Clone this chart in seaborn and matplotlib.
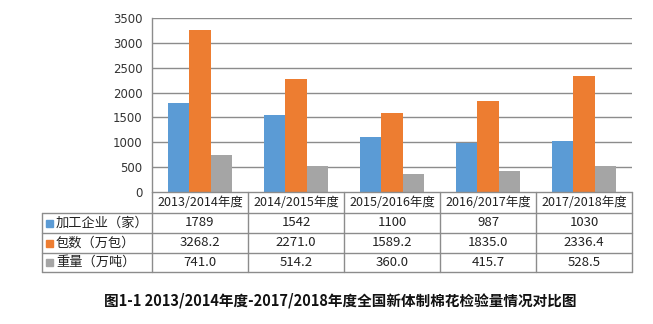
import matplotlib
matplotlib.use("Agg")
import matplotlib.pyplot as plt
import seaborn as sns
import pandas as pd
from matplotlib.patches import Rectangle

categories = ['2013/2014年度', '2014/2015年度', '2015/2016年度', '2016/2017年度', '2017/2018年度']
series_names = ['加工企业（家）', '包数（万包）', '重量（万吨）']
firms = [1789, 1542, 1100, 987, 1030]
bales = [3268.2, 2271.0, 1589.2, 1835.0, 2336.4]
weight = [741.0, 514.2, 360.0, 415.7, 528.5]
yticks = [0, 500, 1000, 1500, 2000, 2500, 3000, 3500]
title = '图1-1 2013/2014年度-2017/2018年度全国新体制棉花检验量情况对比图'

colors = ['#5B9BD5', '#ED7D31', '#A5A5A5']

sns.set_style('white')
plt.rcParams['font.family'] = ['Noto Sans CJK SC', 'DejaVu Sans']

W, H = 653, 324
fig = plt.figure(figsize=(W / 100, H / 100), dpi=100)
fig.patch.set_facecolor('white')

# plot area in pixels
px_l, px_r, px_t, px_b = 152, 632, 18, 192
ax = fig.add_axes([px_l / W, (H - px_b) / H, (px_r - px_l) / W, (px_b - px_t) / H])

rows = []
for name, vals in zip(series_names, [firms, bales, weight]):
    for c, v in zip(categories, vals):
        rows.append({'category': c, 'series': name, 'value': v})
df = pd.DataFrame(rows)

sns.barplot(data=df, x='category', y='value', hue='series', order=categories,
            hue_order=series_names, palette=colors, width=0.67, gap=0,
            saturation=1, ax=ax, legend=False, linewidth=0)

ax.set_xlim(-0.5, len(categories) - 0.5)
ax.set_ylim(0, 3500)
ax.set_yticks(yticks)
ax.set_yticklabels([str(t) for t in yticks], fontsize=8.5, color='#333333',
                   family=['DejaVu Sans'])
ax.set_xticks([])
ax.set_xlabel('')
ax.set_ylabel('')
ax.tick_params(axis='y', length=0, pad=7)
for t in yticks[1:]:
    ax.axhline(t, color='#8c8c8c', lw=1, zorder=0)
for s in ['top', 'right', 'bottom']:
    ax.spines[s].set_visible(False)
ax.spines['left'].set_color('#8c8c8c')
ax.spines['left'].set_linewidth(1)

# data table
tl, tr, tt, tb = 42, 632, 192, 272
axt = fig.add_axes([tl / W, (H - tb) / H, (tr - tl) / W, (tb - tt) / H])
axt.set_xlim(tl, tr)
axt.set_ylim(tb, tt)
axt.axis('off')
lc = '#8c8c8c'
ncol = len(categories)
colw = (px_r - px_l) / ncol
row_edges = [192, 213, 233, 253, 272]
# horizontal lines
axt.plot([px_l, px_r], [tt, tt], color=lc, lw=1, clip_on=False)
for y in row_edges[1:]:
    axt.plot([tl, px_r], [y, y], color=lc, lw=1, clip_on=False)
# vertical lines
for j in range(ncol + 1):
    x = px_l + j * colw
    axt.plot([x, x], [tt, tb], color=lc, lw=1, clip_on=False)
axt.plot([tl, tl], [row_edges[1], tb], color=lc, lw=1, clip_on=False)

hc = (row_edges[0] + row_edges[1]) / 2
for j, c in enumerate(categories):
    axt.text(px_l + (j + 0.5) * colw, hc, c, ha='center', va='center',
             fontsize=9, color='#222222')

fmt_vals = [[f'{v:d}' for v in firms], [f'{v:.1f}' for v in bales], [f'{v:.1f}' for v in weight]]
for i, (name, vals) in enumerate(zip(series_names, fmt_vals)):
    yc = (row_edges[i + 1] + row_edges[i + 2]) / 2
    axt.add_patch(Rectangle((46, yc - 3.5), 7, 7, color=colors[i], clip_on=False))
    axt.text(56, yc, name, ha='left', va='center', fontsize=9.5, color='#222222')
    for j, v in enumerate(vals):
        axt.text(px_l + (j + 0.5) * colw, yc, v, ha='center', va='center',
                 fontsize=9.5, color='#222222')

fig.text(340 / W, 1 - 300 / H, title, ha='center', va='center', fontsize=10.5,
         fontweight='bold', color='#111111')

fig.savefig('out.png', dpi=100)
